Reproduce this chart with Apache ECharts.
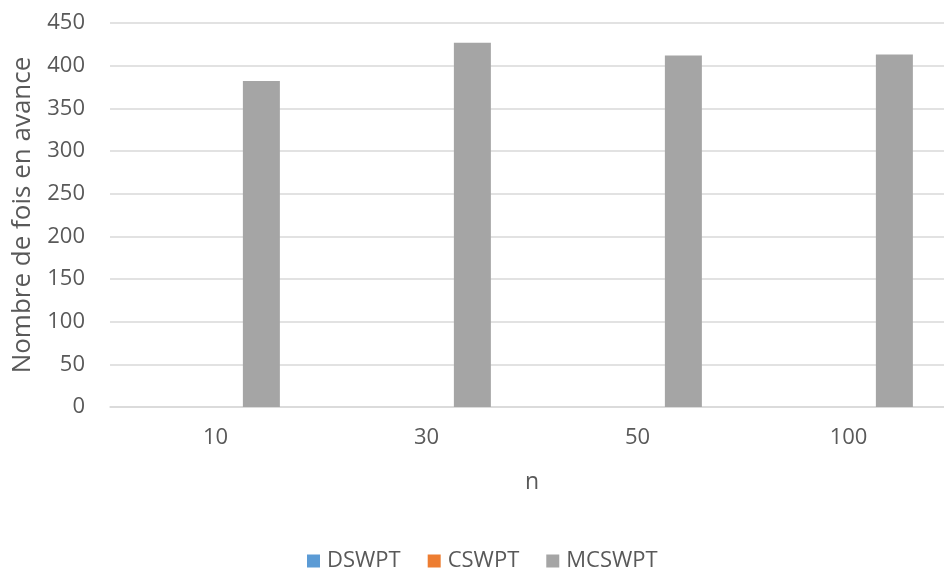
<!DOCTYPE html>
<html>
<head>
<meta charset="utf-8">
<script src="https://cdn.jsdelivr.net/npm/echarts@6/dist/echarts.min.js"></script>
<style>
  html, body { margin: 0; padding: 0; background: #fff; overflow: hidden; }
  #chart { width: 944px; height: 571px; }
</style>
</head>
<body>
<div id="chart"></div>
<script>
// Number of times ahead, per sample size n
const categories = ['10', '30', '50', '100'];
const dswpt = [0, 0, 0, 0];
const cswpt = [0, 0, 0, 0];
const mcswpt = [382, 427, 412, 413];
const yTicks = { min: 0, max: 450, interval: 50 };

const textColor = '#595959';
const fontFamily = '"Open Sans", "DejaVu Sans", sans-serif';

const chart = echarts.init(document.getElementById('chart'), null, { renderer: 'canvas' });

const barBase = { type: 'bar', barWidth: 37, barGap: '24%' };

chart.setOption({
  animation: false,
  textStyle: { fontFamily: fontFamily, color: textColor },
  // the plot area runs slightly past the right edge of the canvas
  grid: {
    left: 110, right: -10, top: 23, bottom: 164,
    containLabel: false,
    outerBoundsMode: 'none'
  },
  xAxis: {
    type: 'category',
    data: categories,
    name: 'n',
    nameLocation: 'middle',
    nameGap: 64,
    nameTextStyle: { fontSize: 23, color: textColor, fontFamily: fontFamily },
    axisLine: { lineStyle: { color: '#d9d9d9', width: 1.5 } },
    axisTick: { show: false },
    axisLabel: { fontSize: 22, color: textColor, margin: 20, fontFamily: fontFamily },
    splitLine: { show: false }
  },
  yAxis: {
    type: 'value',
    min: yTicks.min,
    max: yTicks.max,
    interval: yTicks.interval,
    name: 'Nombre de fois en avance',
    nameLocation: 'middle',
    nameGap: 74,
    nameRotate: 90,
    nameTextStyle: { fontSize: 26, color: textColor, fontFamily: fontFamily },
    axisLine: { show: false },
    axisTick: { show: false },
    axisLabel: { fontSize: 22, color: textColor, margin: 25, fontFamily: fontFamily },
    splitLine: { lineStyle: { color: '#d9d9d9', width: 1.5 } }
  },
  legend: {
    top: 545,
    left: 302,
    itemWidth: 13,
    itemHeight: 13,
    itemGap: 27,
    icon: 'rect',
    textStyle: { fontSize: 22, color: textColor, fontFamily: fontFamily, padding: [0, 0, 0, 2] },
    data: ['DSWPT', 'CSWPT', 'MCSWPT']
  },
  series: [
    Object.assign({}, barBase, { name: 'DSWPT', data: dswpt, itemStyle: { color: '#5B9BD5' } }),
    Object.assign({}, barBase, { name: 'CSWPT', data: cswpt, itemStyle: { color: '#ED7D31' } }),
    Object.assign({}, barBase, { name: 'MCSWPT', data: mcswpt, itemStyle: { color: '#A5A5A5' } })
  ]
});
</script>
</body>
</html>
